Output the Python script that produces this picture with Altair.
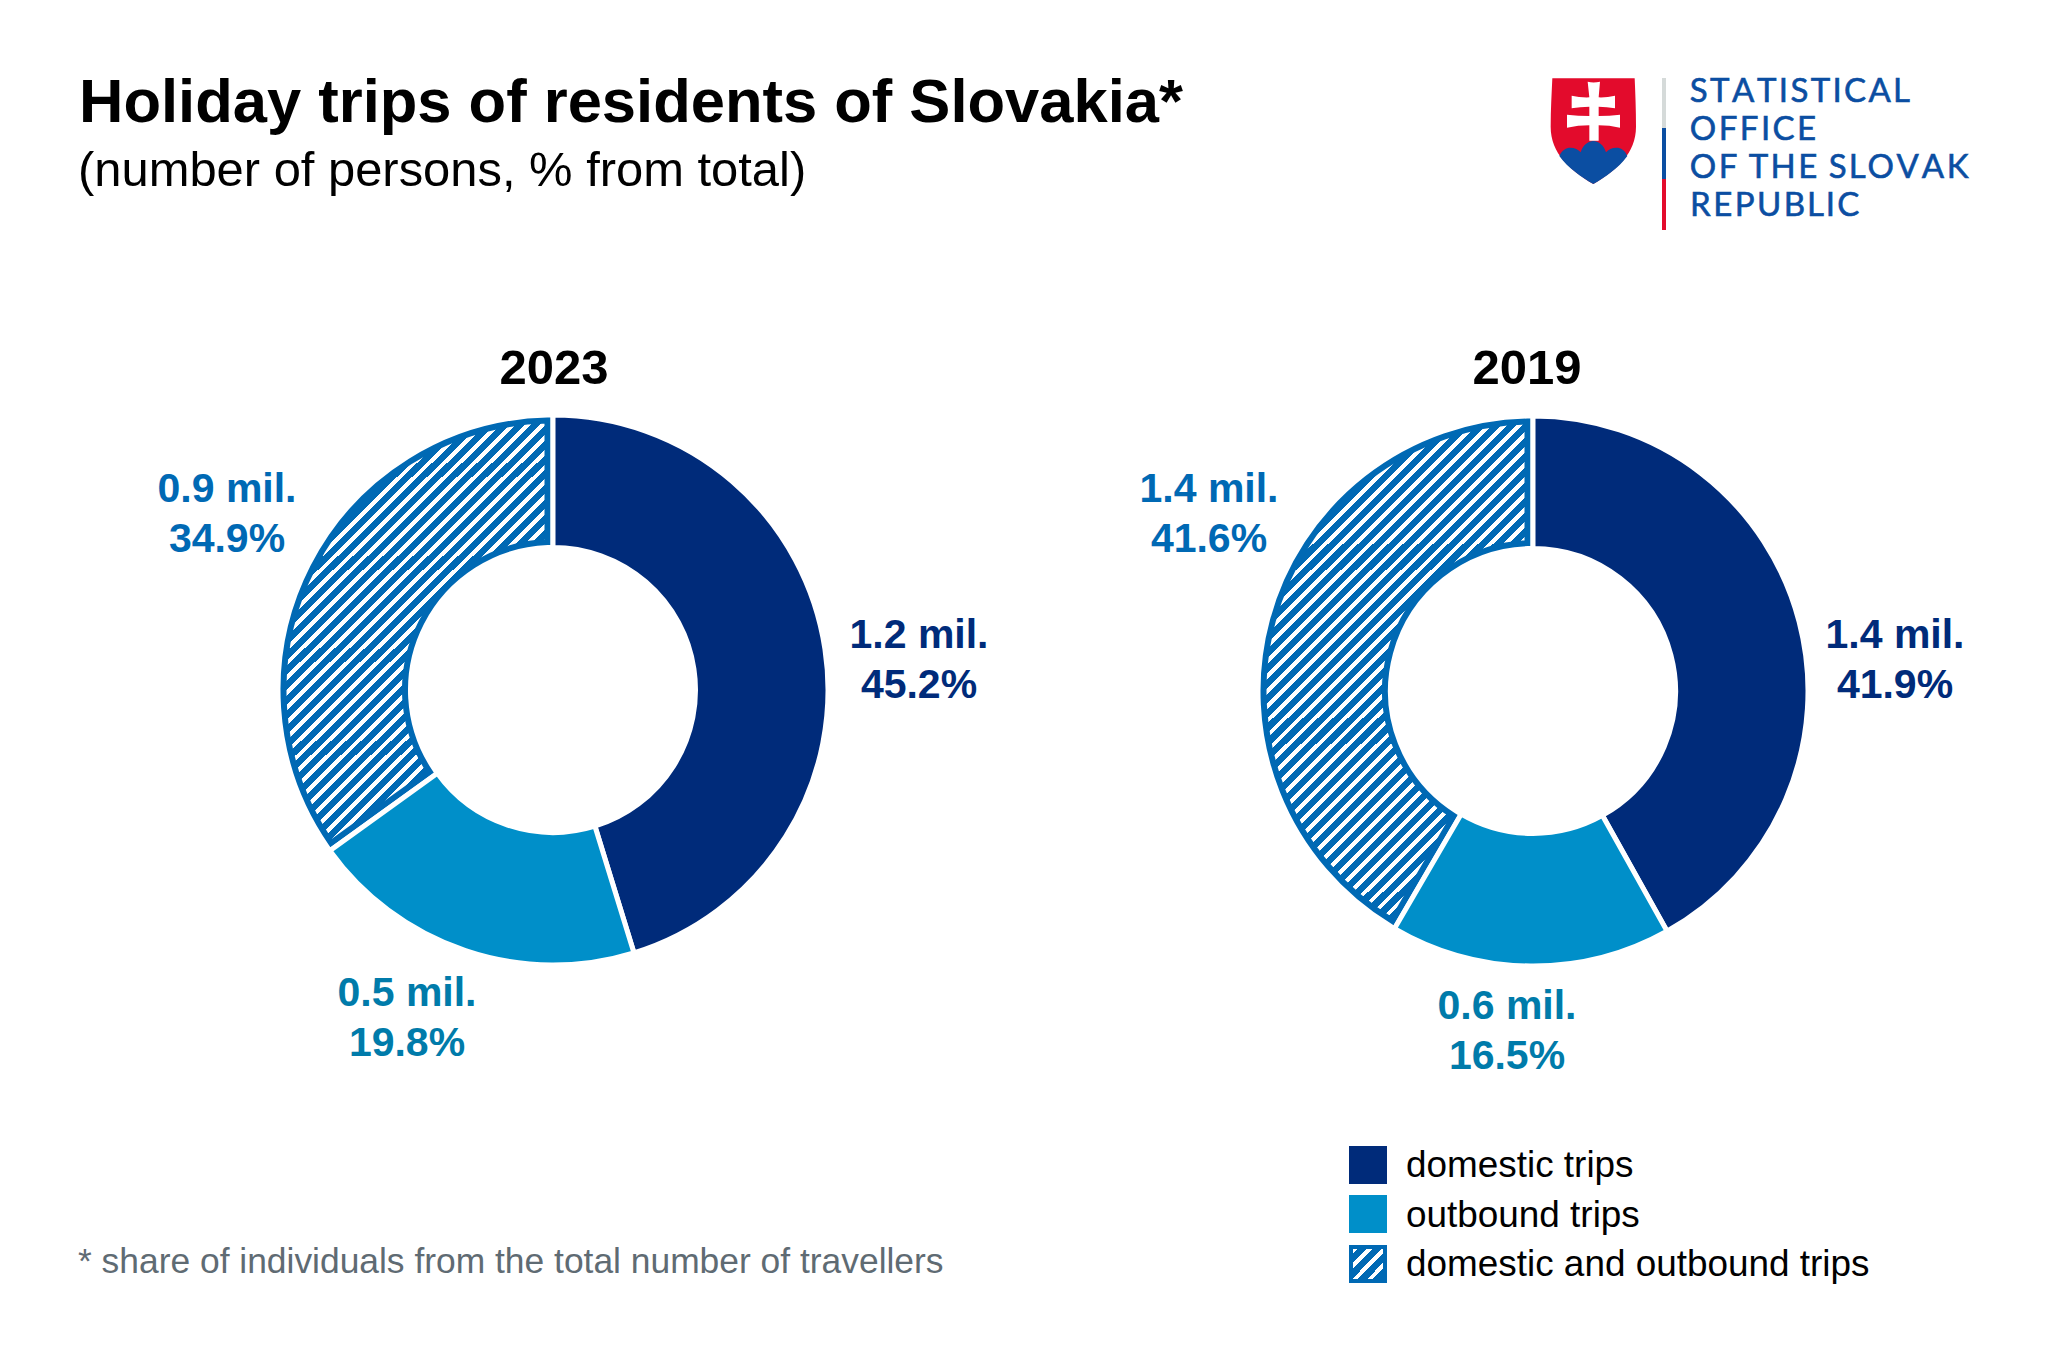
import math
import altair as alt
import pandas as pd

YEARS = ["2023", "2019"]
KINDS = ["domestic trips", "outbound trips", "domestic and outbound trips"]
SHARES = {"2023": [45.2, 19.8, 34.9], "2019": [41.9, 16.5, 41.6]}
MILLIONS = {"2023": ["1.2", "0.5", "0.9"], "2019": ["1.4", "0.6", "1.4"]}
LOGO_LINES = ["STATISTICAL", "OFFICE", "OF THE SLOVAK", "REPUBLIC"]

NAVY = "#002B7A"
CYAN = "#008FC9"
HATCH = "#0069B4"
LABEL_COLORS = ["#002B7A", "#007BAA", "#0069B4"]
LOGO_BLUE = "#0B4EA2"
RED = "#E30B2C"
SANS = "Liberation Sans"

CENTER = {"2023": (553, 690), "2019": (1533, 691)}
TITLE_X = {"2023": 554, "2019": 1527}
PHASE = {"2023": 0.37, "2019": 0.12}
R_OUT, R_IN = 272.5, 145
BORDER, GAP = 6, 5
PERIOD, WHITE_PART = 15.0, 0.39

LABEL_POS = {
    "2023": [(919, 648, 698), (407, 1006, 1056), (227, 502, 552)],
    "2019": [(1895, 648, 698), (1507, 1019, 1069), (1209, 502, 552)],
}

# approximate Lato advance widths (em), used to letter-space the logo wordmark
LATO = {"A": .68, "B": .63, "C": .65, "E": .58, "F": .56, "H": .75, "I": .27, "K": .66, "L": .48,
        "O": .79, "P": .59, "R": .62, "S": .53, "T": .58, "U": .73, "V": .68, " ": .19}


def hatch_fill(w, h, phase=0.0):
    """Diagonal stripes as a hard-stop linear gradient in the item's bounding box."""
    k = (w + h) * w * h / (w * w + h * h)
    n = (w + h) / PERIOD
    stops = [{"offset": 0, "color": HATCH}]
    i = -1
    while i < n + 1:
        a = min(1.0, max(0.0, (i + phase) / n))
        b = min(1.0, max(0.0, (i + phase + WHITE_PART) / n))
        c = min(1.0, max(0.0, (i + phase + 1) / n))
        stops += [
            {"offset": a, "color": "#ffffff"},
            {"offset": b, "color": "#ffffff"},
            {"offset": b, "color": HATCH},
            {"offset": c, "color": HATCH},
        ]
        i += 1
    return {"gradient": "linear", "x1": 0, "y1": 0, "x2": k / h, "y2": k / w, "stops": stops}


def txt(s, x, y, size, color="#000000", bold=False, align="left", font=SANS, **extra):
    return (
        alt.Chart(pd.DataFrame({"t": [s]}))
        .mark_text(align=align, baseline="alphabetic", fontSize=size, font=font,
                   fontWeight="bold" if bold else "normal", color=color, **extra)
        .encode(text="t:N", x=alt.value(x - 8), y=alt.value(y - 8))
    )


def box(x0, y0, x1, y1, **mark):
    return (
        alt.Chart(pd.DataFrame({"a": [0]}))
        .mark_rect(**mark)
        .encode(x=alt.value(x0 - 8), x2=alt.value(x1 - 8), y=alt.value(y0 - 8), y2=alt.value(y1 - 8))
    )


def donut(year):
    cx, cy = CENTER[year]
    shares = SHARES[year]
    total = sum(shares)
    df = pd.DataFrame({"kind": KINDS, "share": shares, "rank": [0, 1, 2]})
    base = alt.Chart(df).transform_stack(
        stack="share", groupby=[], as_=["t0", "t1"], sort=[alt.SortField("rank")]
    )
    enc = dict(
        theta=alt.Theta("t0:Q", scale=alt.Scale(domain=[0, total], range=[0, 2 * math.pi])),
        theta2=alt.Theta2("t1"),
        x=alt.value(cx - 8),
        y=alt.value(cy - 8),
    )
    start = 2 * math.pi * (shares[0] + shares[1]) / total
    ro, ri = R_OUT - BORDER / 2, R_IN + BORDER / 2
    w = ro - (BORDER / 2 + GAP / 2)
    h = ro - math.cos(start) * ro
    rp = math.hypot(ro, ri)
    pad = 2 * (BORDER / 2 + GAP / 2) / rp
    hatched = base.transform_filter(alt.datum.rank == 2).mark_arc(
        radius=ro, radius2=ri, padAngle=pad,
        fill=hatch_fill(w, h, PHASE[year]), stroke=HATCH, strokeWidth=BORDER,
    ).encode(**enc)
    solid = base.transform_filter(alt.datum.rank < 2).mark_arc(
        radius=R_OUT + GAP / 2, radius2=R_IN - GAP / 2, stroke="#ffffff", strokeWidth=GAP,
    ).encode(
        fill=alt.Fill("kind:N", legend=None,
                      scale=alt.Scale(domain=KINDS[:2], range=[NAVY, CYAN])),
        **enc,
    )
    layers = [hatched, solid, txt(year, TITLE_X[year], 384, 49, bold=True, align="center")]
    for i, (x, y1, y2) in enumerate(LABEL_POS[year]):
        layers.append(txt(f"{MILLIONS[year][i]} mil.", x, y1, 41, LABEL_COLORS[i], True, "center"))
        layers.append(txt(f"{shares[i]}%", x, y2, 41, LABEL_COLORS[i], True, "center"))
    return layers


def logo_shape(path, color):
    S = 60
    res, idx = [], 0
    for t in path.split():
        if t.isalpha():
            res.append(t)
            idx = 0
        else:
            v = float(t)
            c = (v - 220) / 3 / S if idx % 2 == 0 else (v - 243) / 3 / S
            res.append(f"{c:.4f}")
            idx += 1
    return (
        alt.Chart(pd.DataFrame({"a": [0]}))
        .mark_point(shape=" ".join(res), size=(2 * S) ** 2, filled=True, opacity=1, color=color, strokeWidth=0)
        .encode(x=alt.value(1520 + 220 / 3 - 8), y=alt.value(50 + 243 / 3 - 8))
    )


def wordmark(lines, x0, baselines, size, spacing):
    rows = []
    for line, by in zip(lines, baselines):
        x = x0
        for ch in line:
            adv = LATO[ch] * size
            if ch != " ":
                rows.append({"c": ch, "px": x + adv / 2 - 8, "py": by - 8})
            x += adv + spacing
    return (
        alt.Chart(pd.DataFrame(rows))
        .mark_text(align="center", baseline="alphabetic", fontSize=size, font="Lato",
                   color=LOGO_BLUE, stroke=LOGO_BLUE, strokeWidth=0.6)
        .encode(text="c:N", x=alt.X("px:Q", scale=None), y=alt.Y("py:Q", scale=None))
    )


SHIELD = "M 97 85 L 344 85 C 346 130 348 180 348 230 C 348 310 290 360 220 402 C 150 360 92 310 92 230 C 92 180 95 130 97 85 Z"
HILLS = ("M 118 318 C 125 300 140 293 150 293 C 165 293 175 298 182 307 C 188 285 205 273 220 273 "
         "C 235 273 252 285 258 307 C 265 298 275 293 290 293 C 302 293 315 300 322 318 "
         "C 295 355 255 382 220 402 C 185 382 145 355 118 318 Z")
CROSS = ("M 203 95 Q 220 100 240 95 L 236 142 Q 260 143 285 137 L 285 175 Q 260 170 236 170 L 236 198 "
         "Q 268 198 300 194 L 300 233 Q 268 226 236 226 L 236 272 L 208 272 L 208 226 Q 175 226 141 233 "
         "L 141 194 Q 175 198 208 198 L 208 170 Q 180 170 155 175 L 155 137 Q 180 143 208 142 Z")

layers = []
layers += [
    txt("Holiday trips of residents of Slovakia*", 79, 122, 61.5, bold=True),
    txt("(number of persons, % from total)", 78, 186, 48.9),
    txt("* share of individuals from the total number of travellers", 78, 1273, 35.4, "#5F6B73"),
]
for y in YEARS:
    layers += donut(y)

LEGEND_Y = [(1146, 1184), (1195, 1233), (1245, 1283)]
LEGEND_TEXT_Y = [1177, 1227, 1276]
layers.append(box(1349, LEGEND_Y[0][0], 1387, LEGEND_Y[0][1], color=NAVY))
layers.append(box(1349, LEGEND_Y[1][0], 1387, LEGEND_Y[1][1], color=CYAN))
layers.append(box(1351, LEGEND_Y[2][0] + 2, 1385, LEGEND_Y[2][1] - 2,
                  fill=hatch_fill(34, 34, 0.2), stroke=HATCH, strokeWidth=4))
for k, ty in zip(KINDS, LEGEND_TEXT_Y):
    layers.append(txt(k, 1406, ty, 36.9))

layers += [
    logo_shape(SHIELD, RED),
    logo_shape(CROSS, "#ffffff"),
    logo_shape(HILLS, LOGO_BLUE),
    box(1662, 78, 1666, 128, color="#D5DAD9"),
    box(1662, 128, 1666, 179, color=LOGO_BLUE),
    box(1662, 179, 1666, 230, color=RED),
    wordmark(LOGO_LINES, 1690, [102, 140, 178, 216], 33, 2.7),
]

chart = (
    alt.layer(*layers)
    .resolve_scale(theta="independent", fill="independent")
    .properties(width=2032, height=1345, padding=0, background="#ffffff",
                autosize=alt.AutoSizeParams(type="none"))
    .configure_view(strokeWidth=0, stroke="transparent")
)
chart.save("out.html", embed_options={"renderer": "svg", "actions": False})
